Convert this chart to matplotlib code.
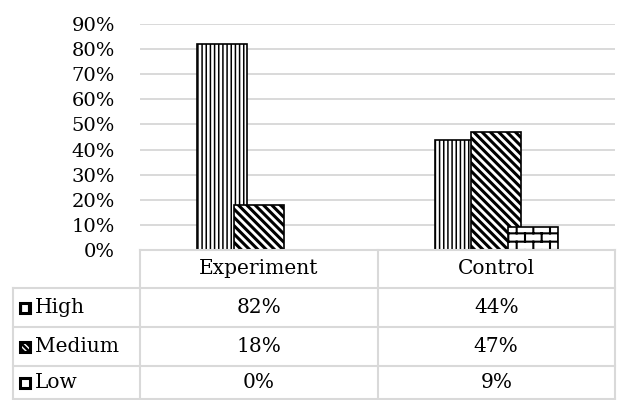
import warnings
import matplotlib as mpl
import matplotlib.pyplot as plt
import matplotlib.hatch as mhatch
from matplotlib.path import Path
from matplotlib.lines import Line2D
from matplotlib.patches import Rectangle
from matplotlib.transforms import blended_transform_factory
import numpy as np

warnings.filterwarnings("ignore")

categories = ["Experiment", "Control"]
series = ["High", "Medium", "Low"]
high = [0.82, 0.44]
medium = [0.18, 0.47]
low = [0.00, 0.09]
hatches = ["||||", "\\\\\\\\", "bb"]
hatch_lw = [1.1, 2.2, 1.5]


class BrickHatch(mhatch.HatchPatternBase):
    # brick wall pattern, one 'b' = density rows per tile
    def __init__(self, hatch, density):
        self.rows = hatch.count('b') * density
        self.cols = self.rows // 2
        self.num_vertices = self.rows * 2 + self.rows * self.cols * 2

    def set_vertices_and_codes(self, vertices, codes):
        v = []
        for k in range(self.rows):
            y = k / self.rows
            v += [(0, y), (1, y)]
        for k in range(self.rows):
            y0, y1 = k / self.rows, (k + 1) / self.rows
            off = 0.5 * (k % 2)
            for j in range(self.cols):
                xx = (j + off) / self.cols
                v += [(xx, y0), (xx, y1)]
        vertices[:] = v
        codes[0::2] = Path.MOVETO
        codes[1::2] = Path.LINETO


mhatch._hatch_types.append(BrickHatch)

plt.rcParams['font.family'] = ['DejaVu Serif']
FS = 14
FS_TABLE = 14.5

W, H = 617, 400
fig = plt.figure(figsize=(W / 100, H / 100), dpi=100)


def fx(px):
    return px / W


def fy(py):
    return 1 - py / H


ax = fig.add_axes([fx(140), fy(250), fx(615) - fx(140), fy(24) - fy(250)])

x = np.arange(len(categories))
step = 0.154
bw = 0.21
for i, (vals, h, hl) in enumerate(zip([high, medium, low], hatches, hatch_lw)):
    with mpl.rc_context({'hatch.linewidth': hl}):
        bars = ax.bar(x + (i - 1) * step, vals, bw, color="white", edgecolor="black",
                      hatch=h, linewidth=1.2, zorder=3 + i)
    for b in bars:
        if hasattr(b, "set_hatch_linewidth"):
            b.set_hatch_linewidth(hl)

ax.set_xlim(-0.5, 1.5)
ax.set_ylim(0, 0.9)
yt = np.arange(0, 0.91, 0.1)
ax.set_yticks(yt)
ax.set_yticklabels([f"{int(round(v * 100))}%" for v in yt])
ax.tick_params(axis="y", length=0, pad=18, labelsize=FS)
ax.set_xticks([])
ax.grid(axis="y", color="#d9d9d9", linewidth=1.4, zorder=0)
for s in ax.spines.values():
    s.set_visible(False)

# data table under the chart
gc = "#d9d9d9"


def hline(y, x0, x1):
    fig.add_artist(Line2D([fx(x0), fx(x1)], [fy(y), fy(y)], color=gc, lw=1.5))


def vline(xp, y0, y1):
    fig.add_artist(Line2D([fx(xp), fx(xp)], [fy(y0), fy(y1)], color=gc, lw=1.5))


rows_y = [250, 288, 327, 366, 399]
hline(rows_y[0], 140, 615)
for y in rows_y[1:]:
    hline(y, 13, 615)
vline(13, 288, 399)
for xp in [140, 378, 615]:
    vline(xp, 250, 399)

tr = blended_transform_factory(ax.transData, fig.transFigure)
for j, cat in enumerate(categories):
    fig.text(j, fy((rows_y[0] + rows_y[1]) / 2), cat, transform=tr,
             ha="center", va="center", fontsize=FS_TABLE)
key_hatch = ["||", "\\\\\\\\\\\\", ""]
for r, (name, vals, h) in enumerate(zip(series, [high, medium, low], key_hatch)):
    yc = (rows_y[r + 1] + rows_y[r + 2]) / 2
    with mpl.rc_context({'hatch.linewidth': 1.8}):
        key = Rectangle((fx(20), fy(yc + 5)), fx(10), fy(0) - fy(10),
                        transform=fig.transFigure, facecolor="white",
                        edgecolor="black", hatch=h, lw=2.2)
    if hasattr(key, "set_hatch_linewidth"):
        key.set_hatch_linewidth(1.8)
    fig.add_artist(key)
    fig.text(fx(35), fy(yc), name, ha="left", va="center", fontsize=FS_TABLE)
    for j, v in enumerate(vals):
        fig.text(j, fy(yc), f"{int(round(v * 100))}%", transform=tr,
                 ha="center", va="center", fontsize=FS_TABLE)

fig.savefig("out.png", dpi=100)
